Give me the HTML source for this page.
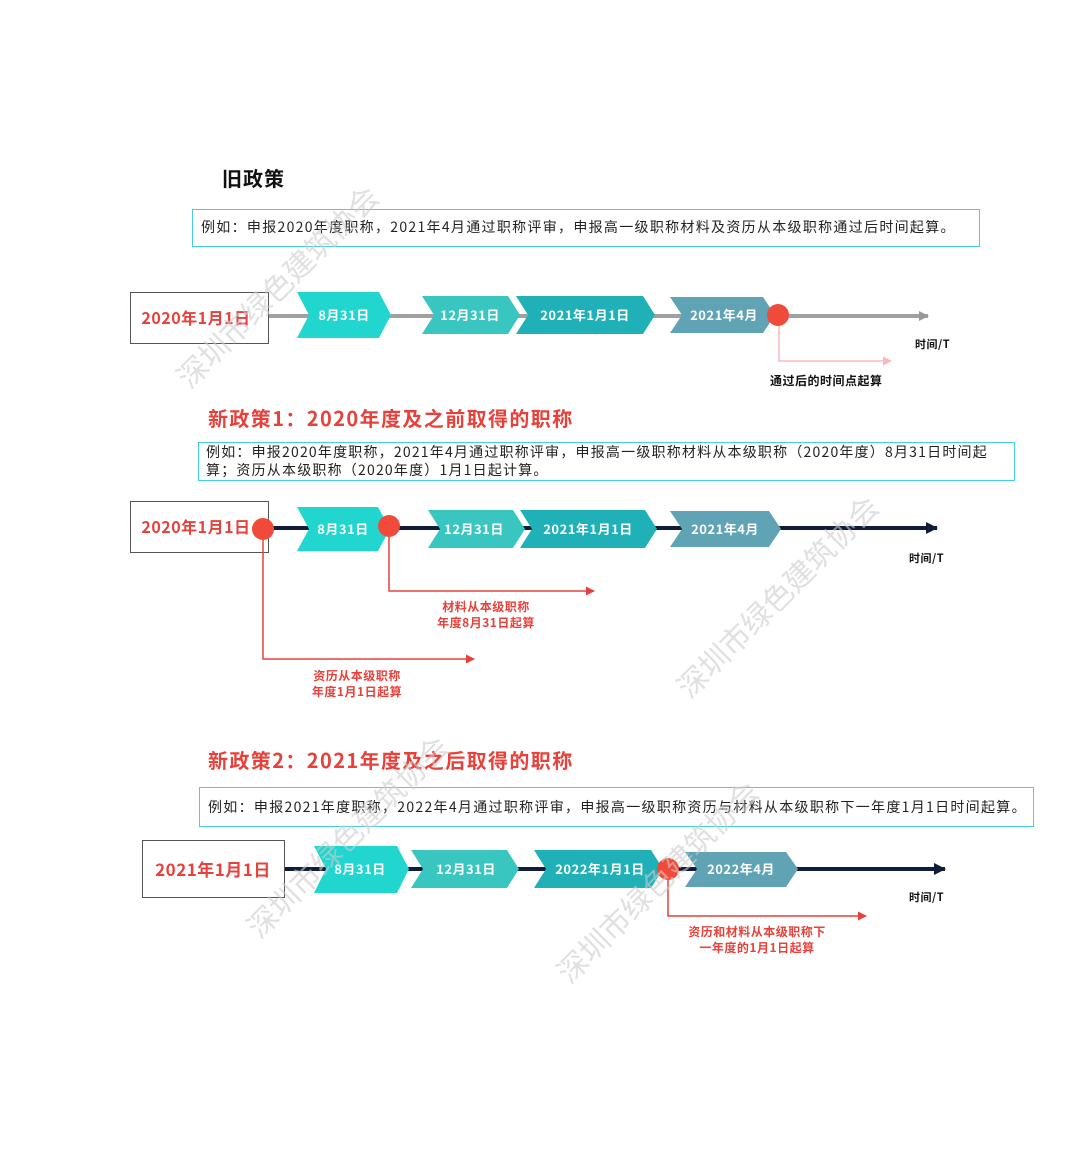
<!DOCTYPE html>
<html><head><meta charset="utf-8"><style>
body{margin:0;background:#fff}
svg text{font-family:"Noto Sans CJK SC","Liberation Sans",sans-serif}
.c{fill:#fff;font-weight:bold;font-size:13px;text-anchor:middle;letter-spacing:0.5px}
.r{fill:#e8403a;font-weight:bold;font-size:12px;text-anchor:middle;letter-spacing:0.5px}
.k{fill:#111;font-weight:bold;font-size:11px;letter-spacing:0.5px}
.b{fill:#222;font-size:14px;letter-spacing:1.3px}
.h{fill:#e8403a;font-weight:bold;font-size:20px;letter-spacing:1.4px}
.w{fill:#ccc;font-size:30px;opacity:.6}
</style></head><body>
<svg width="1080" height="1148" xmlns="http://www.w3.org/2000/svg">
<defs>
<marker id="ag" markerWidth="10" markerHeight="10" refX="9" refY="5" orient="auto" markerUnits="userSpaceOnUse"><path d="M0,0L10,5L0,10z" fill="#999"/></marker>
<marker id="ad" markerWidth="12" markerHeight="12" refX="11" refY="6" orient="auto" markerUnits="userSpaceOnUse"><path d="M0,0L12,6L0,12z" fill="#0f1d3a"/></marker>
<marker id="ar" markerWidth="9" markerHeight="9" refX="8" refY="4.5" orient="auto" markerUnits="userSpaceOnUse"><path d="M0,0L9,4.5L0,9z" fill="#e8403a"/></marker>
<marker id="ap" markerWidth="9" markerHeight="9" refX="8" refY="4.5" orient="auto" markerUnits="userSpaceOnUse"><path d="M0,0L9,4.5L0,9z" fill="#f8b8c0"/></marker>
</defs>

<text x="222" y="186" style="font-size:20px;font-weight:bold;fill:#111;letter-spacing:1px">旧政策</text>
<rect x="192.5" y="209.5" width="787" height="37" fill="#fff" stroke="#45cfe0"/>
<text x="201" y="232" class="b">例如：申报2020年度职称，2021年4月通过职称评审，申报高一级职称材料及资历从本级职称通过后时间起算。</text>
<line x1="268" y1="316" x2="928" y2="316" stroke="#a0a0a0" stroke-width="4" marker-end="url(#ag)"/>
<rect x="130.5" y="292.5" width="138" height="51" fill="#fff" stroke="#555"/>
<text x="196" y="324" style="fill:#e8403a;font-weight:bold;font-size:16px;letter-spacing:0.5px" text-anchor="middle">2020年1月1日</text>
<polygon points="297,292 379,292 391,315 379,338 297,338 309,315" fill="#22d6d0"/>
<text x="344" y="320" class="c">8月31日</text>
<polygon points="422,296 508,296 520,315 508,334 422,334 434,315" fill="#3ac6c0"/>
<text x="470" y="320" class="c">12月31日</text>
<polygon points="516,296 643,296 655,315 643,334 516,334 528,315" fill="#1fb0b8"/>
<text x="585" y="320" class="c">2021年1月1日</text>
<polygon points="670,297 763,297 775,315 763,333 670,333 682,315" fill="#5fa3b5"/>
<text x="724" y="320" class="c">2021年4月</text>
<polyline points="779,320 779,361 891,361" fill="none" stroke="#f8b8c0" stroke-width="1.5" marker-end="url(#ap)"/>
<circle cx="778" cy="315" r="11" fill="#f04a3a"/>
<text x="915" y="348" class="k">时间/T</text>
<text x="770" y="385" class="k" style="font-size:12px">通过后的时间点起算</text>

<text x="208" y="426" class="h">新政策1：2020年度及之前取得的职称</text>
<rect x="198.5" y="442.5" width="816" height="38" fill="#fff" stroke="#45cfe0"/>
<text x="206" y="457" class="b" style="letter-spacing:1.2px">例如：申报2020年度职称，2021年4月通过职称评审，申报高一级职称材料从本级职称（2020年度）8月31日时间起</text>
<text x="206" y="475" class="b" style="letter-spacing:1.2px">算；资历从本级职称（2020年度）1月1日起计算。</text>
<line x1="268" y1="528" x2="937" y2="528" stroke="#0f1d3a" stroke-width="4" marker-end="url(#ad)"/>
<rect x="130.5" y="501.5" width="138" height="51" fill="#fff" stroke="#555"/>
<text x="196" y="533" style="fill:#e8403a;font-weight:bold;font-size:16px;letter-spacing:0.5px" text-anchor="middle">2020年1月1日</text>
<polygon points="297,507 378,507 390,529 378,551 297,551 309,529" fill="#22d6d0"/>
<text x="343" y="534" class="c">8月31日</text>
<polygon points="428,510 513,510 525,529 513,548 428,548 440,529" fill="#3ac6c0"/>
<text x="474" y="534" class="c">12月31日</text>
<polygon points="520,510 645,510 657,529 645,548 520,548 532,529" fill="#1fb0b8"/>
<text x="588" y="534" class="c">2021年1月1日</text>
<polygon points="670,511 769,511 781,529 769,547 670,547 682,529" fill="#5fa3b5"/>
<text x="725" y="534" class="c">2021年4月</text>
<polyline points="389,530 389,591 594,591" fill="none" stroke="#e8403a" stroke-width="1.5" marker-end="url(#ar)"/>
<polyline points="263,530 263,659 474,659" fill="none" stroke="#e8403a" stroke-width="1.5" marker-end="url(#ar)"/>
<circle cx="263" cy="529" r="11" fill="#f04a3a"/>
<circle cx="389" cy="526" r="11" fill="#f04a3a"/>
<text x="909" y="562" class="k">时间/T</text>
<text x="486" y="611" class="r">材料从本级职称</text>
<text x="486" y="627" class="r">年度8月31日起算</text>
<text x="357" y="680" class="r">资历从本级职称</text>
<text x="357" y="696" class="r">年度1月1日起算</text>

<text x="208" y="768" class="h">新政策2：2021年度及之后取得的职称</text>
<rect x="199.5" y="787.5" width="834" height="39" fill="#fff" stroke="#45cfe0"/>
<text x="208" y="812" class="b">例如：申报2021年度职称，2022年4月通过职称评审，申报高一级职称资历与材料从本级职称下一年度1月1日时间起算。</text>
<line x1="284" y1="869" x2="945" y2="869" stroke="#0f1d3a" stroke-width="4" marker-end="url(#ad)"/>
<rect x="142.5" y="840.5" width="142" height="57" fill="#fff" stroke="#555"/>
<text x="213" y="876" style="fill:#e8403a;font-weight:bold;font-size:17px;letter-spacing:0.5px" text-anchor="middle">2021年1月1日</text>
<polygon points="314,846 397,846 409,869 397,893 314,893 326,869" fill="#22d6d0"/>
<text x="360" y="874" class="c">8月31日</text>
<polygon points="411,850 507,850 519,869 507,888 411,888 423,869" fill="#3ac6c0"/>
<text x="466" y="874" class="c">12月31日</text>
<polygon points="534,850 651,850 663,869 651,888 534,888 546,869" fill="#1fb0b8"/>
<text x="600" y="874" class="c">2022年1月1日</text>
<polygon points="685,852 786,852 798,869 786,887 685,887 697,869" fill="#5fa3b5"/>
<text x="741" y="874" class="c">2022年4月</text>
<polyline points="668,872 668,916 866,916" fill="none" stroke="#e8403a" stroke-width="1.5" marker-end="url(#ar)"/>
<circle cx="668" cy="869" r="11" fill="#f04a3a"/>
<text x="909" y="901" class="k">时间/T</text>
<text x="757" y="936" class="r">资历和材料从本级职称下</text>
<text x="757" y="952" class="r">一年度的1月1日起算</text>

<text class="w" transform="translate(190,390) rotate(-45)">深圳市绿色建筑协会</text>
<text class="w" transform="translate(690,700) rotate(-45)">深圳市绿色建筑协会</text>
<text class="w" transform="translate(570,985) rotate(-45)">深圳市绿色建筑协会</text>
<text class="w" transform="translate(260,940) rotate(-45)">深圳市绿色建筑协会</text>
</svg>
</body></html>
